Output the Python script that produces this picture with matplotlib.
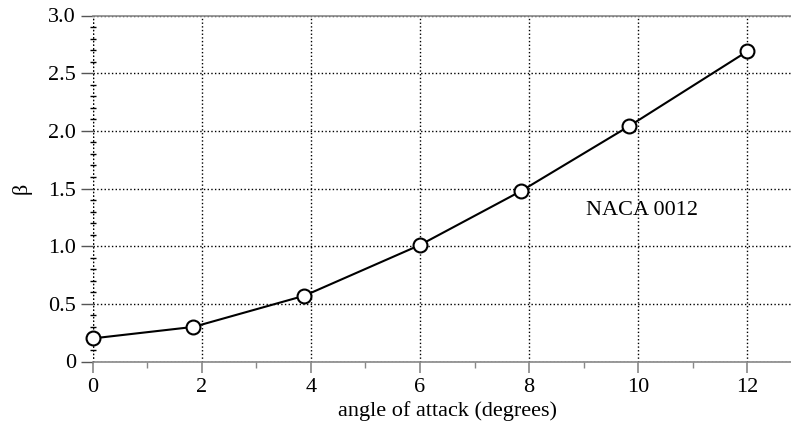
import matplotlib
matplotlib.use("Agg")
import matplotlib.pyplot as plt
from matplotlib.ticker import MultipleLocator

# angle of attack (degrees) vs beta, NACA 0012
angle = [0.0, 1.85, 3.88, 6.0, 7.86, 9.83, 12.0]
beta = [0.20, 0.30, 0.57, 1.01, 1.48, 2.04, 2.69]

plt.rcParams['font.family'] = ['Liberation Serif', 'DejaVu Serif']
plt.rcParams['font.size'] = 16

fig = plt.figure(figsize=(7.91, 4.21), dpi=100)
ax = fig.add_axes([92.5 / 791, 59.5 / 421, (802 - 92.5) / 791, 346 / 421])

ax.plot(angle, beta, color='black', lw=1.5, marker='o', ms=10,
        mfc='white', mec='black', mew=1.5, zorder=5, clip_on=False)

ax.set_xlim(0, 13)
ax.set_ylim(0, 3.0)
ax.xaxis.set_major_locator(MultipleLocator(2))
ax.xaxis.set_minor_locator(MultipleLocator(1))
ax.yaxis.set_major_locator(MultipleLocator(0.5))
ax.yaxis.set_minor_locator(MultipleLocator(0.1))
ax.set_yticks([0, 0.5, 1.0, 1.5, 2.0, 2.5, 3.0])
ax.set_yticklabels(['0', '0.5', '1.0', '1.5', '2.0', '2.5', '3.0'])

ax.grid(True, which='major', linestyle=':', color='black', lw=1.0)
ax.axvline(0, linestyle=':', color='black', lw=1.0, zorder=1)

for side in ['left', 'right']:
    ax.spines[side].set_visible(False)
for side in ['top', 'bottom']:
    ax.spines[side].set_color('#888888')
    ax.spines[side].set_linewidth(1.2)

ax.tick_params(axis='x', which='major', direction='out', length=8, width=1.2,
               color='#888888', pad=4)
ax.tick_params(axis='x', which='minor', direction='out', length=4, width=1.0,
               color='#888888')
ax.tick_params(axis='y', which='major', direction='out', length=9, width=1.0,
               color='#555555', pad=3)
ax.tick_params(axis='y', which='minor', direction='inout', length=5, width=1.0,
               color='black')

ax.set_xlabel('angle of attack (degrees)', labelpad=3)
ax.set_ylabel('β', labelpad=12)
ax.text(9.05, 1.305, 'NACA 0012', fontsize=16, va='center', ha='left')

fig.savefig('out.png', dpi=100)
